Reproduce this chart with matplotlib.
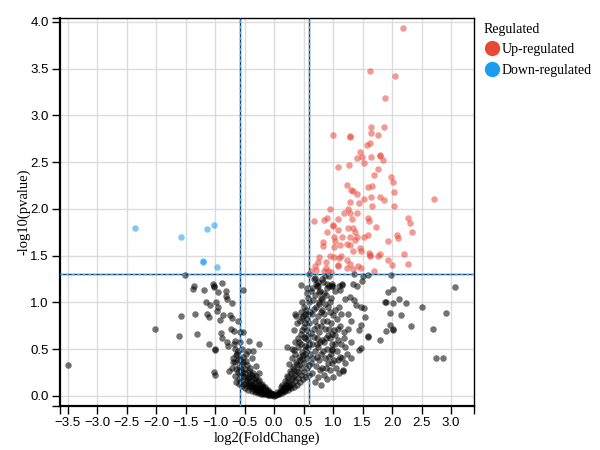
import matplotlib
matplotlib.use("Agg")
import matplotlib.pyplot as plt
from matplotlib.lines import Line2D
from matplotlib.ticker import FixedLocator

# up-regulated points (log2 fold change, -log10 p)
up_x = [2.19, 1.62, 2.05, 1.88, 1.64, 1.87, 1.00, 1.29, 1.29, 1.65, 1.77, 1.62, 1.57,
        1.46, 1.41, 1.49, 1.65, 1.80, 1.80, 1.85, 1.53, 1.09, 1.27, 1.76, 1.70, 1.99,
        2.01, 1.23, 1.30, 1.33, 1.40, 1.59, 1.66, 2.03, 1.52, 1.64, 1.80, 1.87, 2.72,
        1.28, 1.44, 1.66, 2.04, 0.94, 1.25, 1.28, 1.41, 1.19, 0.90, 1.09, 1.32, 1.59,
        0.67, 0.85, 1.61, 2.27, 2.31, 1.00, 1.00, 1.33, 1.72, 1.08, 1.26, 0.90, 1.38,
        1.59, 2.34, 2.08, 2.10, 1.02, 1.15, 1.29, 1.40, 1.53, 0.83, 1.04, 1.93, 1.38,
        1.24, 1.12, 1.02, 0.83, 1.29, 1.46, 1.48, 1.33, 1.61, 1.62, 1.62, 1.80, 1.76,
        0.94, 1.01, 1.10, 1.14, 0.77, 2.21, 1.23, 1.94, 0.75, 0.88, 1.08, 1.08, 1.28,
        1.42, 1.47, 2.00, 2.27, 0.69, 1.24, 1.34, 0.88, 0.71, 0.62, 0.85, 0.91, 1.70,
        0.97]
up_y = [3.93, 3.47, 3.42, 3.18, 2.88, 2.88, 2.79, 2.78, 2.77, 2.81, 2.79, 2.70, 2.68,
        2.61, 2.54, 2.55, 2.55, 2.58, 2.57, 2.52, 2.49, 2.45, 2.47, 2.43, 2.36, 2.34,
        2.29, 2.25, 2.20, 2.19, 2.16, 2.23, 2.24, 2.18, 2.11, 2.13, 2.13, 2.09, 2.11,
        2.07, 2.06, 2.03, 2.03, 2.00, 2.00, 1.96, 1.96, 1.95, 1.90, 1.89, 1.89, 1.90,
        1.87, 1.88, 1.87, 1.90, 1.85, 1.83, 1.82, 1.80, 1.81, 1.77, 1.79, 1.75, 1.75,
        1.72, 1.75, 1.72, 1.69, 1.70, 1.70, 1.70, 1.70, 1.70, 1.65, 1.66, 1.66, 1.67,
        1.62, 1.61, 1.59, 1.60, 1.61, 1.58, 1.55, 1.55, 1.53, 1.50, 1.51, 1.52, 1.50,
        1.50, 1.48, 1.47, 1.50, 1.49, 1.52, 1.45, 1.45, 1.43, 1.43, 1.40, 1.39, 1.41,
        1.39, 1.37, 1.40, 1.41, 1.39, 1.37, 1.36, 1.37, 1.35, 1.33, 1.33, 1.34, 1.33,
        1.32]

# down-regulated points
down_x = [-2.35, -1.57, -1.14, -1.02, -1.21, -1.20, -0.96]
down_y = [1.79, 1.70, 1.78, 1.83, 1.44, 1.43, 1.38]

# not significant points
ns_points = [
    # scattered ones
    (-3.49, 0.33), (-2.02, 0.71), (-1.61, 0.64), (-1.57, 0.85), (-1.51, 1.29),
    (-1.38, 1.14), (-1.36, 1.18), (-1.34, 0.88), (-1.30, 0.66), (-1.18, 1.13),
    (-1.15, 1.00), (-1.13, 0.88), (-1.11, 0.84), (-1.10, 0.56), (-1.08, 0.97),
    (-1.04, 1.20), (-1.02, 1.17), (-1.02, 1.16), (-1.01, 0.50), (-1.00, 0.49),
    (-1.02, 0.26), (-1.01, 0.22), (-0.98, 1.00), (-0.97, 0.91), (-0.95, 1.11),
    (-0.95, 0.95), (-0.91, 0.81), (-0.90, 0.67), (-0.88, 0.62), (-0.88, 1.21),
    (-0.86, 0.87), (-0.82, 1.12), (-0.82, 1.07), (-0.80, 1.04), (-0.80, 0.58),
    (-0.78, 0.53), (-0.76, 0.27), (-0.75, 0.87), (-0.73, 0.72), (-0.71, 0.83),
    (-0.71, 0.99), (-0.69, 0.36), (-0.68, 0.69), (-0.67, 0.59), (-0.66, 0.50),
    (-0.64, 0.44), (-0.61, 0.80), (-0.52, 1.13), (-0.57, 0.68), (-0.52, 0.68),
    (-0.43, 0.59), (-0.36, 0.48), (-0.26, 0.56), (0.22, 0.52), (0.33, 0.49),
    (0.36, 0.88), (0.37, 0.85), (0.46, 1.19), (0.48, 0.83), (0.56, 1.10),
    (0.60, 1.30), (0.69, 1.26), (0.71, 1.20), (0.74, 1.18), (0.77, 1.11),
    (0.81, 1.04), (0.82, 1.25), (0.89, 1.20), (0.93, 1.28), (0.98, 1.18),
    (0.99, 1.17), (0.99, 1.20), (0.98, 0.50), (0.98, 0.49), (1.10, 1.18),
    (1.12, 1.13), (1.15, 1.20), (1.15, 1.19), (1.17, 0.28), (1.17, 0.27),
    (1.21, 1.04), (1.25, 0.88), (1.28, 1.06), (1.30, 0.80), (1.33, 1.20),
    (1.35, 1.02), (1.36, 1.30), (1.39, 0.97), (1.41, 1.18), (1.44, 0.70),
    (1.44, 0.49), (1.47, 0.51), (1.47, 0.76), (1.49, 1.23), (1.50, 1.28),
    (1.48, 0.95), (1.53, 0.94), (1.54, 0.84), (1.59, 0.64), (1.59, 0.63),
    (1.59, 1.29), (1.80, 0.60), (1.89, 1.00), (1.88, 1.00), (1.90, 0.69),
    (1.93, 1.11), (1.97, 0.89), (1.97, 0.76), (1.99, 1.29), (2.01, 1.14),
    (2.01, 0.99), (2.01, 0.71), (2.01, 0.70), (2.12, 1.04), (2.16, 0.86),
    (2.24, 0.99), (2.33, 0.75), (2.50, 0.95), (2.70, 0.72), (2.75, 0.40),
    (2.87, 0.41), (2.92, 0.89), (3.07, 1.16),
    # left arm of the V
    (-0.66, 0.21), (-0.64, 0.29), (-0.67, 0.36), (-0.63, 0.45), (-0.61, 0.26),
    (-0.59, 0.18), (-0.60, 0.31), (-0.58, 0.39), (-0.62, 0.48), (-0.57, 0.23),
    (-0.59, 0.13), (-0.56, 0.16), (-0.54, 0.26), (-0.55, 0.34), (-0.53, 0.42),
    (-0.52, 0.21), (-0.54, 0.11), (-0.51, 0.13), (-0.49, 0.20), (-0.50, 0.29),
    (-0.48, 0.37), (-0.47, 0.45), (-0.46, 0.17), (-0.50, 0.08), (-0.45, 0.11),
    (-0.44, 0.19), (-0.43, 0.27), (-0.46, 0.33), (-0.42, 0.14), (-0.41, 0.23),
    (-0.44, 0.06), (-0.40, 0.09), (-0.39, 0.16), (-0.38, 0.22), (-0.41, 0.30),
    (-0.37, 0.12), (-0.38, 0.05), (-0.36, 0.18), (-0.35, 0.07), (-0.34, 0.13),
    (-0.33, 0.19), (-0.36, 0.25), (-0.32, 0.10), (-0.33, 0.04), (-0.31, 0.15),
    (-0.30, 0.05), (-0.29, 0.10), (-0.28, 0.16), (-0.30, 0.21), (-0.27, 0.08),
    (-0.26, 0.12), (-0.28, 0.03), (-0.25, 0.04), (-0.24, 0.08), (-0.23, 0.12),
    (-0.25, 0.17), (-0.22, 0.06), (-0.21, 0.10), (-0.23, 0.02), (-0.20, 0.03),
    (-0.19, 0.06), (-0.18, 0.09), (-0.20, 0.13), (-0.17, 0.05), (-0.16, 0.07),
    (-0.18, 0.02), (-0.15, 0.02), (-0.14, 0.04), (-0.13, 0.06), (-0.15, 0.09),
    (-0.12, 0.05), (-0.11, 0.03), (-0.10, 0.01), (-0.09, 0.02), (-0.08, 0.04),
    (-0.10, 0.06), (-0.07, 0.03), (-0.05, 0.01), (-0.04, 0.02), (-0.06, 0.03),
    (-0.03, 0.005), (0.00, 0.00), (0.01, 0.01), (-0.01, 0.02),
    (-0.38, 0.40), (-0.30, 0.32), (-0.25, 0.25), (-0.45, 0.48),
    (-0.65, 0.15), (-0.62, 0.38), (-0.56, 0.29), (-0.52, 0.36), (-0.49, 0.25),
    (-0.47, 0.14), (-0.42, 0.20), (-0.40, 0.12), (-0.35, 0.10), (-0.31, 0.07),
    (-0.27, 0.05), (-0.22, 0.04), (-0.17, 0.03), (-0.12, 0.02), (-0.08, 0.01),
    (-0.70, 0.40), (-0.72, 0.30), (-0.68, 0.55), (-0.58, 0.58), (-0.54, 0.50),
    # right arm of the V
    (0.04, 0.01), (0.06, 0.02), (0.05, 0.04), (0.09, 0.02), (0.10, 0.04),
    (0.11, 0.06), (0.12, 0.09), (0.14, 0.03), (0.15, 0.06), (0.16, 0.09),
    (0.14, 0.12), (0.17, 0.05), (0.19, 0.05), (0.20, 0.08), (0.21, 0.12),
    (0.19, 0.16), (0.22, 0.21), (0.23, 0.10), (0.24, 0.06), (0.25, 0.10),
    (0.26, 0.15), (0.24, 0.20), (0.27, 0.27), (0.26, 0.34), (0.29, 0.08),
    (0.30, 0.13), (0.31, 0.18), (0.29, 0.24), (0.32, 0.31), (0.30, 0.40),
    (0.31, 0.50), (0.34, 0.10), (0.35, 0.16), (0.36, 0.22), (0.34, 0.29),
    (0.37, 0.36), (0.35, 0.45), (0.36, 0.58), (0.34, 0.70), (0.39, 0.12),
    (0.40, 0.19), (0.41, 0.26), (0.39, 0.34), (0.42, 0.42), (0.40, 0.52),
    (0.41, 0.62), (0.39, 0.78), (0.44, 0.15), (0.45, 0.22), (0.46, 0.30),
    (0.44, 0.38), (0.47, 0.47), (0.45, 0.56), (0.46, 0.66), (0.44, 0.80),
    (0.45, 0.90), (0.49, 0.18), (0.50, 0.26), (0.51, 0.35), (0.49, 0.44),
    (0.52, 0.53), (0.50, 0.63), (0.51, 0.74), (0.49, 0.85), (0.50, 0.95),
    (0.54, 0.20), (0.55, 0.30), (0.56, 0.40), (0.54, 0.50), (0.57, 0.60),
    (0.55, 0.70), (0.56, 0.82), (0.54, 0.92), (0.57, 1.05), (0.59, 0.22),
    (0.60, 0.33), (0.61, 0.45), (0.59, 0.56), (0.62, 0.67), (0.60, 0.78),
    (0.61, 0.90), (0.59, 1.00),
    (0.08, 0.03), (0.13, 0.05), (0.18, 0.10), (0.22, 0.15), (0.27, 0.12),
    (0.32, 0.20), (0.37, 0.27), (0.42, 0.33), (0.47, 0.39), (0.52, 0.45),
    (0.57, 0.52), (0.43, 0.58), (0.48, 0.70), (0.53, 0.78), (0.58, 0.88),
    (0.52, 0.88), (0.47, 1.00), (0.55, 1.15), (0.58, 0.65), (0.53, 0.62),
    # cluster right of the threshold
    (0.65, 0.25), (0.66, 0.40), (0.64, 0.55), (0.67, 0.72), (0.65, 0.88),
    (0.66, 1.02), (0.64, 1.15), (0.70, 0.15), (0.71, 0.32), (0.69, 0.48),
    (0.72, 0.62), (0.70, 0.80), (0.71, 0.95), (0.69, 1.08), (0.75, 0.20),
    (0.76, 0.38), (0.74, 0.52), (0.77, 0.68), (0.75, 0.85), (0.76, 1.00),
    (0.74, 1.22), (0.80, 0.12), (0.81, 0.30), (0.79, 0.45), (0.82, 0.60),
    (0.80, 0.75), (0.81, 0.92), (0.79, 1.05), (0.85, 0.22), (0.86, 0.40),
    (0.84, 0.58), (0.87, 0.72), (0.85, 0.88), (0.86, 0.98), (0.90, 0.18),
    (0.91, 0.35), (0.89, 0.50), (0.92, 0.65), (0.90, 0.80), (0.91, 0.95),
    (0.89, 1.15), (0.95, 0.28), (0.96, 0.45), (0.94, 0.62), (0.97, 0.78),
    (0.95, 0.90), (1.00, 0.20), (1.01, 0.38), (0.99, 0.55), (1.02, 0.70),
    (1.00, 0.86), (1.05, 0.30), (1.06, 0.48), (1.04, 0.65), (1.07, 0.82),
    (1.10, 0.25), (1.11, 0.42), (1.09, 0.60), (1.12, 0.75), (1.10, 0.95),
    (1.20, 0.35), (1.21, 0.52), (1.19, 0.68), (1.30, 0.40), (1.31, 0.58),
    (0.68, 1.25), (0.72, 1.18), (0.78, 1.12), (0.83, 1.22), (0.88, 1.08),
    (0.93, 1.18), (0.97, 1.05), (1.03, 1.12), (0.62, 1.12), (0.86, 1.28),
    (0.63, 0.35), (0.67, 0.63), (0.68, 0.93), (0.73, 0.42), (0.73, 0.75),
    (0.78, 0.28), (0.78, 0.58), (0.79, 0.90), (0.83, 0.48), (0.83, 0.80),
    (0.84, 1.10), (0.88, 0.30), (0.88, 0.62), (0.93, 0.42), (0.93, 0.72),
    (0.94, 1.00), (0.98, 0.35), (0.98, 0.66), (1.03, 0.55), (1.03, 0.92),
    (1.08, 0.38), (1.08, 0.72), (1.13, 0.55), (1.14, 0.88), (1.16, 0.40),
    (1.18, 0.62), (1.24, 0.45), (1.26, 0.72), (0.72, 0.55), (0.77, 0.98),
]
ns_x = [p[0] for p in ns_points]
ns_y = [p[1] for p in ns_points]

fc_cut = 0.585   # log2(1.5)
p_cut = 1.301    # -log10(0.05)

xticks = [-3.5, -3.0, -2.5, -2.0, -1.5, -1.0, -0.5, 0.0, 0.5, 1.0, 1.5, 2.0, 2.5, 3.0]
yticks = [0.0, 0.5, 1.0, 1.5, 2.0, 2.5, 3.0, 3.5, 4.0]

red = '#e8483a'
blue = '#1a9cf0'

fig = plt.figure(figsize=(6, 4.5), dpi=100)
ax = fig.add_axes([0.1, 0.098, 0.69, 0.862])

ax.scatter(ns_x, ns_y, s=22, c='black', alpha=0.55, linewidths=0, zorder=3)
ax.scatter(up_x, up_y, s=22, c=red, alpha=0.55, linewidths=0, zorder=3)
ax.scatter(down_x, down_y, s=22, c=blue, alpha=0.55, linewidths=0, zorder=3)

# threshold lines: dark line with blue dashes on top
for xv in (-fc_cut, fc_cut):
    ax.axvline(xv, color='#1e3d5c', lw=1.0, zorder=4)
    ax.axvline(xv, color='#4aa8e8', lw=1.0, ls=(0, (2, 2)), zorder=4)
ax.axhline(p_cut, color='#1e3d5c', lw=1.0, zorder=4)
ax.axhline(p_cut, color='#4aa8e8', lw=1.0, ls=(0, (2, 2)), zorder=4)

ax.set_xlim(-3.63, 3.39)
ax.set_ylim(-0.107, 4.04)
ax.set_xticks(xticks)
ax.set_yticks(yticks)
ax.xaxis.set_minor_locator(FixedLocator([-3.63, 3.39]))
ax.yaxis.set_minor_locator(FixedLocator([-0.107, 4.04]))
ax.grid(True, color='#dcdcdc', lw=1.0, zorder=0)
ax.set_axisbelow(True)

for sp in ax.spines.values():
    sp.set_color('black')
    sp.set_linewidth(1.0)
ax.spines['left'].set_linewidth(1.6)
ax.spines['bottom'].set_linewidth(1.6)

ax.tick_params(axis='both', which='both', direction='out', length=6, width=1,
               labelsize=9.5, pad=2)
for lbl in ax.get_xticklabels() + ax.get_yticklabels():
    lbl.set_family('Liberation Sans')

ax.set_xlabel('log2(FoldChange)', family='Liberation Serif', fontsize=10.5, labelpad=2)
ax.set_ylabel('-log10(pvalue)', family='Liberation Serif', fontsize=10.5)
ax.yaxis.set_label_coords(-0.071, 0.5)

handles = [
    Line2D([], [], marker='o', ls='', color='#e64a35', markersize=10),
    Line2D([], [], marker='o', ls='', color='#1a9cf0', markersize=10),
]
leg = fig.legend(handles, ['Up-regulated', 'Down-regulated'], title='Regulated',
                 loc='upper left', bbox_to_anchor=(0.797, 0.962), frameon=False,
                 prop={'family': 'Liberation Serif', 'size': 10},
                 handletextpad=0.1, handlelength=1.2, labelspacing=0.55,
                 borderaxespad=0)
leg.get_title().set_family('Liberation Serif')
leg.get_title().set_fontsize(10)
leg._legend_box.align = 'left'

fig.savefig('out.png', dpi=100)
